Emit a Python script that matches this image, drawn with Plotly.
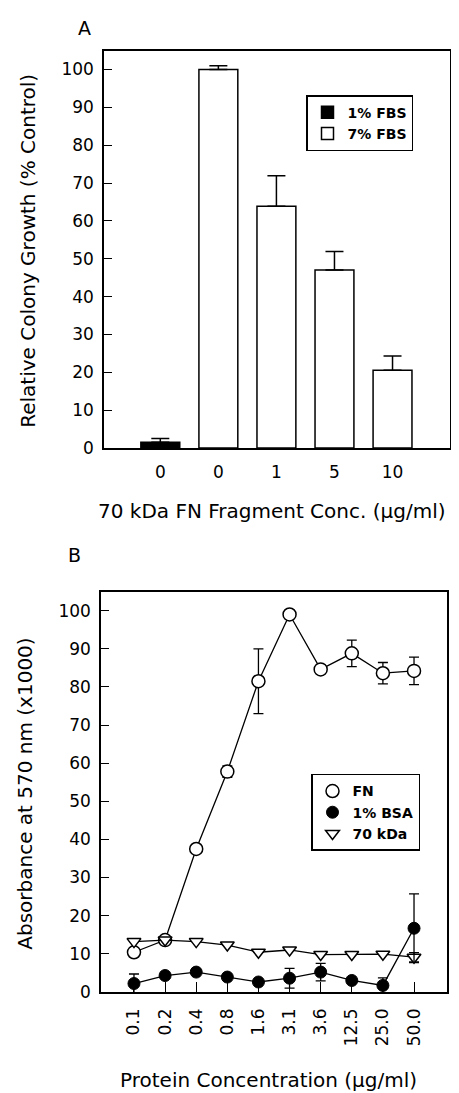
import plotly.graph_objects as go

# ---------------- Panel A data ----------------
a_ticks = [0, 1, 2, 3, 4]
a_labels = ["0", "0", "1", "5", "10"]
a_fbs1_x = [0]
a_fbs1 = [1.5]
a_fbs1_err = [1.0]
a_fbs7_x = [1, 2, 3, 4]
a_fbs7 = [100.0, 63.9, 47.0, 20.5]
a_fbs7_err = [1.0, 8.0, 4.9, 3.8]

# ---------------- Panel B data ----------------
b_ticks = list(range(10))
b_labels = ["0.1", "0.2", "0.4", "0.8", "1.6", "3.1", "3.6", "12.5", "25.0", "50.0"]
b_fn = [10.4, 13.6, 37.5, 57.8, 81.5, 99.0, 84.6, 88.8, 83.6, 84.2]
b_fn_err = [0, 0, 0, 1.5, 8.5, 0, 0, 3.5, 2.8, 3.6]
b_bsa = [2.2, 4.3, 5.2, 3.9, 2.6, 3.6, 5.2, 3.0, 1.7, 16.7]
b_bsa_err = [2.5, 0, 0, 0, 0, 2.6, 2.3, 0, 2.0, 9.0]
b_kda = [13.2, 13.6, 13.2, 12.3, 10.4, 11.0, 9.8, 9.8, 9.9, 9.1]
b_kda_err = [0, 0, 0, 0, 0, 0, 0, 0, 0, 1.2]

W, H = 459, 1093
FONT = "DejaVu Sans"


def px(x):
    return x / W


def py(y):
    return 1 - y / H


fig = go.Figure()

# Panel A bars
fig.add_trace(go.Bar(
    x=a_fbs1_x, y=a_fbs1, name="1% FBS", width=0.67,
    marker=dict(color="black", line=dict(color="black", width=1.5)),
    error_y=dict(type="data", symmetric=False, array=a_fbs1_err,
                 arrayminus=[0] * len(a_fbs1), color="black", thickness=1.5, width=9),
    xaxis="x", yaxis="y", legend="legend",
))
fig.add_trace(go.Bar(
    x=a_fbs7_x, y=a_fbs7, name="7% FBS", width=0.67,
    marker=dict(color="white", line=dict(color="black", width=1.5)),
    error_y=dict(type="data", symmetric=False, array=a_fbs7_err,
                 arrayminus=[0] * len(a_fbs7), color="black", thickness=1.5, width=9),
    xaxis="x", yaxis="y", legend="legend",
))

# Panel B lines
series = [
    ("FN", b_fn, b_fn_err, dict(symbol="circle", size=13, color="white", line=dict(color="black", width=1.5))),
    ("70 kDa", b_kda, b_kda_err, dict(symbol="triangle-down", size=12, color="white", line=dict(color="black", width=1.5))),
    ("1% BSA", b_bsa, b_bsa_err, dict(symbol="circle", size=12, color="black", line=dict(color="black", width=1))),
]
for name, ys, err, mk in series:
    fig.add_trace(go.Scatter(
        x=b_ticks, y=ys, mode="lines+markers", name=name, showlegend=False,
        line=dict(color="black", width=1.3), marker=mk,
        error_y=dict(type="data", array=err, color="black", thickness=1.3, width=5),
        xaxis="x2", yaxis="y2",
    ))

# legend-only entries for panel B in reference order
for name, mk in [("FN", series[0][3]), ("1% BSA", series[2][3]), ("70 kDa", series[1][3])]:
    fig.add_trace(go.Scatter(
        x=[None], y=[None], mode="markers", name=name, marker=mk,
        xaxis="x2", yaxis="y2", legend="legend2",
    ))

axis_common = dict(showline=True, linecolor="black", linewidth=1.5, mirror=True,
                   showgrid=False, zeroline=False,
                   tickfont=dict(family=FONT, size=17, color="black"))

fig.update_layout(
    width=W, height=H,
    margin=dict(l=0, r=0, t=0, b=0),
    paper_bgcolor="white", plot_bgcolor="white",
    font=dict(family=FONT, color="black"),
    barmode="overlay",
    xaxis=dict(domain=[px(96), px(442)], range=[-0.97, 4.99], anchor="y",
               tickmode="array", tickvals=a_ticks, ticktext=a_labels,
               ticks="", ticklabelstandoff=8, **axis_common),
    yaxis=dict(domain=[py(444), py(43)], range=[0, 105], anchor="x",
               tickmode="array", tickvals=list(range(0, 101, 10)),
               ticks="inside", ticklen=8, tickwidth=1.2, tickcolor="black",
               ticklabelstandoff=5, **axis_common),
    xaxis2=dict(domain=[px(93), px(439)], range=[-1.06, 10.06], anchor="y2",
                tickmode="array", tickvals=b_ticks, ticktext=b_labels, tickangle=-90,
                ticks="inside", ticklen=10, tickwidth=1.2, tickcolor="black",
                ticklabelstandoff=8, **axis_common),
    yaxis2=dict(domain=[py(993), py(589)], range=[0, 105], anchor="x2",
                tickmode="array", tickvals=list(range(0, 101, 10)),
                ticks="inside", ticklen=8, tickwidth=1.2, tickcolor="black",
                ticklabelstandoff=5, **axis_common),
    legend=dict(x=px(298), y=py(88), xanchor="left", yanchor="top",
                bordercolor="black", borderwidth=1.5, bgcolor="white",
                font=dict(family=FONT, size=14, color="black", weight="bold"),
                traceorder="normal"),
    legend2=dict(x=px(303), y=py(773), xanchor="left", yanchor="top",
                 bordercolor="black", borderwidth=1.5, bgcolor="white",
                 font=dict(family=FONT, size=14, color="black", weight="bold"),
                 traceorder="normal"),
)

title_font = dict(family=FONT, size=20, color="black")
annotations = [
    dict(text="A", x=px(76), y=py(20), font=dict(family=FONT, size=19, color="black")),
    dict(text="B", x=px(66), y=py(552), font=dict(family=FONT, size=19, color="black")),
    dict(text="Relative Colony Growth (% Control)", x=px(20), y=py(245), textangle=-90, font=title_font),
    dict(text="70 kDa FN Fragment Conc. (μg/ml)", x=px(264), y=py(508), font=title_font),
    dict(text="Absorbance at 570 nm (x1000)", x=px(17), y=py(793), textangle=-90, font=title_font),
    dict(text="Protein Concentration (μg/ml)", x=px(260), y=py(1082), font=title_font),
]
for a in annotations:
    fig.add_annotation(xref="paper", yref="paper", showarrow=False,
                       xanchor="center", yanchor="middle", **a)

fig.write_html("out.html")
